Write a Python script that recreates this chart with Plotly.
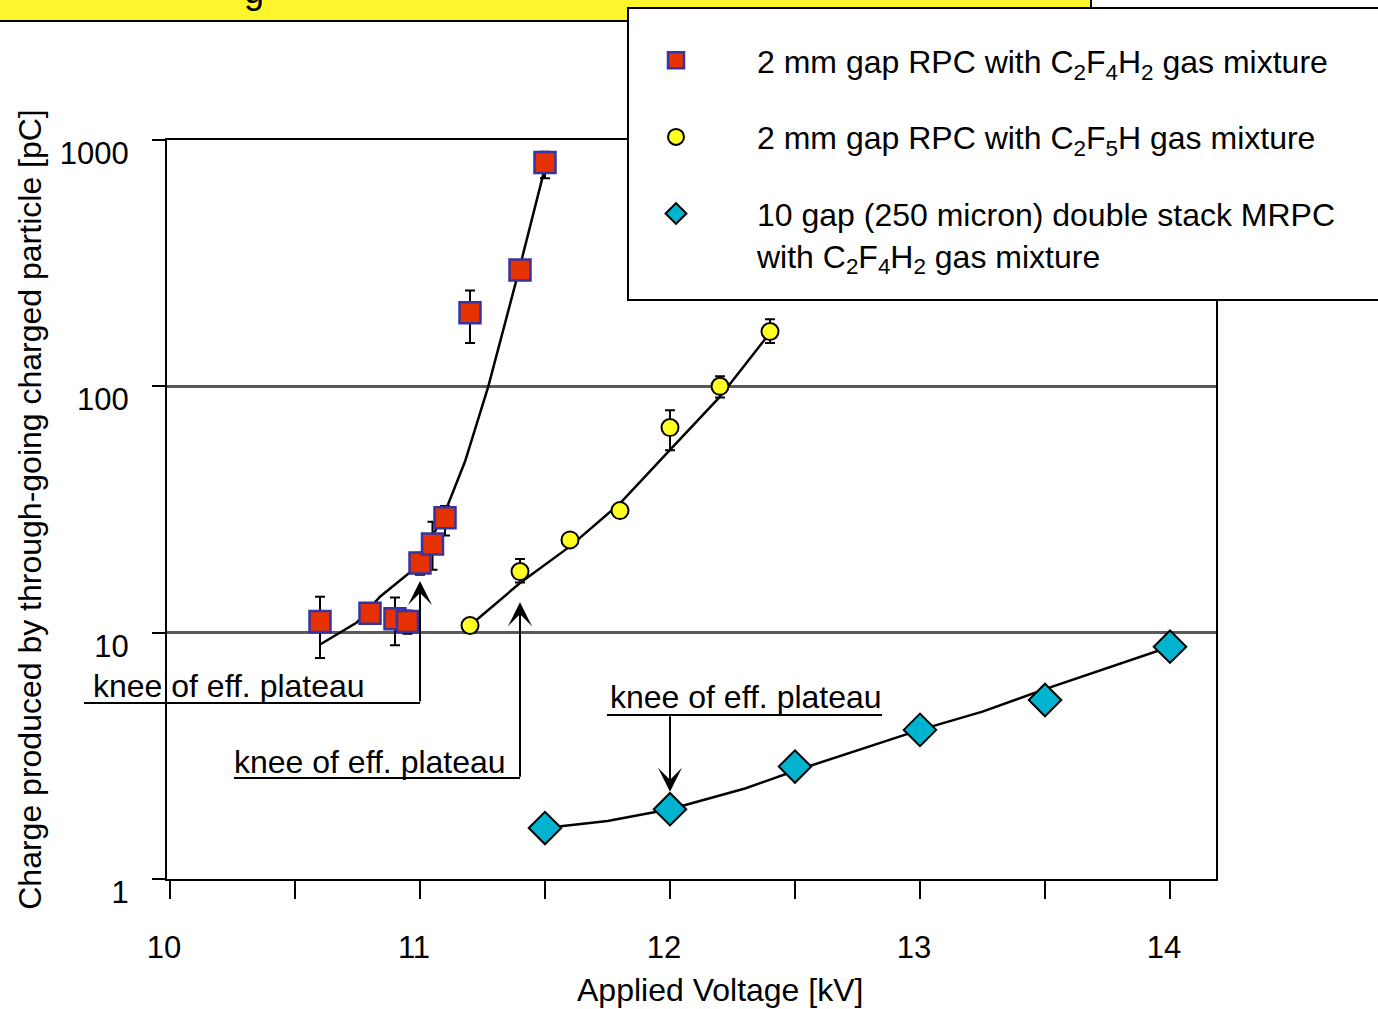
import plotly.graph_objects as go
import math

FONT = "Liberation Sans, Arial, Helvetica, sans-serif"

# ---------------- data ----------------
# 2 mm gap RPC, C2F4H2
red_x = [10.6, 10.8, 10.9, 10.95, 11.0, 11.05, 11.1, 11.2, 11.4, 11.5]
red_y = [11.1, 12.0, 11.4, 11.1, 19.2, 22.9, 29.3, 199, 297, 810]
red_err_plus = [2.9, 0, 2.5, 1.2, 1.9, 5.3, 3.4, 46, 0, 87]
red_err_minus = [3.2, 0, 2.5, 1.2, 2.0, 4.9, 4.5, 49, 0, 110]
red_fit_x = [10.597, 10.747, 10.84, 10.973, 11.093, 11.18, 11.273, 11.393, 11.507]
red_fit_y = [8.91, 11.0, 14.0, 18.0, 29.6, 49.5, 99.7, 288, 825]

# 2 mm gap RPC, C2F5H
yel_x = [11.2, 11.4, 11.6, 11.8, 12.0, 12.2, 12.4]
yel_y = [10.7, 17.7, 23.8, 31.3, 68, 100, 167]
yel_err_plus = [0, 2.2, 0, 0, 12, 10, 20]
yel_err_minus = [0, 1.7, 0, 0, 13, 10, 17]
yel_fit_x = [11.2, 11.4, 11.6, 11.8, 12.0, 12.2, 12.4]
yel_fit_y = [10.7, 15.9, 22.4, 33.5, 55.2, 90.8, 165]

# 10 gap double stack MRPC, C2F4H2
cya_x = [11.5, 12.0, 12.5, 13.0, 13.5, 14.0]
cya_y = [1.61, 1.92, 2.86, 4.03, 5.33, 8.77]
cya_err_plus = [0.05, 0, 0.15, 0, 0.3, 1.0]
cya_err_minus = [0.1, 0, 0, 0, 0.35, 0.5]
cya_fit_x = [11.5, 11.75, 12.0, 12.3, 12.5, 13.0, 13.25, 13.5, 14.0]
cya_fit_y = [1.61, 1.72, 1.92, 2.33, 2.75, 4.03, 4.78, 5.9, 8.77]

x_tick_vals = [10, 10.5, 11, 11.5, 12, 12.5, 13, 13.5, 14]
x_tick_text = ["10", "", "11", "", "12", "", "13", "", "14"]
y_tick_vals = [1, 10, 100, 1000]
y_tick_text = ["1", "10", "100", "1000"]

# knee annotations: arrow tip (x, y) in data units
knee_x = [11.0, 11.4, 12.0]
knee_y = [16.2, 13.3, 2.26]

# ---------------- figure ----------------
fig = go.Figure()

line_style = dict(color="black", width=2.5)
fig.add_trace(go.Scatter(x=red_fit_x, y=red_fit_y, mode="lines", line=line_style,
                         showlegend=False, hoverinfo="skip"))
fig.add_trace(go.Scatter(x=yel_fit_x, y=yel_fit_y, mode="lines", line=line_style,
                         showlegend=False, hoverinfo="skip"))
fig.add_trace(go.Scatter(x=cya_fit_x, y=cya_fit_y, mode="lines", line=line_style,
                         showlegend=False, hoverinfo="skip"))

err_common = dict(type="data", symmetric=False, color="black", thickness=2, width=5)

fig.add_trace(go.Scatter(
    x=red_x, y=red_y, mode="markers",
    name="2 mm gap RPC with C<sub>2</sub>F<sub>4</sub>H<sub>2</sub> gas mixture",
    legendgroup="a",
    marker=dict(symbol="square", size=21, color="#e63200",
                line=dict(color="#3434a4", width=2.5)),
    error_y=dict(array=red_err_plus, arrayminus=red_err_minus, **err_common)))
fig.add_trace(go.Scatter(
    x=yel_x, y=yel_y, mode="markers",
    name="2 mm gap RPC with C<sub>2</sub>F<sub>5</sub>H gas mixture",
    legendgroup="b",
    marker=dict(symbol="circle", size=17, color="#ffff22",
                line=dict(color="black", width=2)),
    error_y=dict(array=yel_err_plus, arrayminus=yel_err_minus, **err_common)))
fig.add_trace(go.Scatter(
    x=cya_x, y=cya_y, mode="markers",
    name="10 gap (250 micron) double stack MRPC<br>with C<sub>2</sub>F<sub>4</sub>H<sub>2</sub> gas mixture",
    legendgroup="c",
    marker=dict(symbol="diamond", size=25, color="#00b4d0",
                line=dict(color="black", width=2)),
    error_y=dict(array=cya_err_plus, arrayminus=cya_err_minus, **err_common)))

# plot geometry (pixels) for paper conversions of decorations
L, R, T, B = 167, 1216, 140, 879
def px(xp):
    return (xp - L) / (R - L)
def py(yp):
    return (B - yp) / (B - T)

shapes = []
# yellow title band at the top (cut off)
shapes.append(dict(type="rect", xref="paper", yref="paper",
                   x0=px(-20), x1=px(1091), y0=py(21), y1=py(-20),
                   fillcolor="#fff52c", line=dict(color="black", width=2), layer="above"))
# legend box (white, black border) drawn under the legend entries
shapes.append(dict(type="rect", xref="paper", yref="paper",
                   x0=px(628), x1=px(1400), y0=py(300), y1=py(8),
                   fillcolor="white", line=dict(color="black", width=2), layer="above"))
# underline / elbow lines of the knee annotations
elbows = [(84, 420, 703), (234, 520, 778), (607, 882, 715)]
for x0, x1, yy in elbows:
    shapes.append(dict(type="line", xref="paper", yref="paper",
                       x0=px(x0), x1=px(x1), y0=py(yy), y1=py(yy),
                       line=dict(color="black", width=2), layer="above"))

annotations = []
# arrows
tails_ay = [122, 176, -77]
for kx, ky, ay in zip(knee_x, knee_y, tails_ay):
    annotations.append(dict(x=kx, y=math.log10(ky), xref="x", yref="y", text="",
                            showarrow=True, ax=0, ay=ay, arrowhead=3, arrowsize=2,
                            arrowwidth=2, arrowcolor="black", standoff=0))
# knee texts
knee_text_pos = [(228.5, 686), (370, 762), (746, 697)]
for tx, ty in knee_text_pos:
    annotations.append(dict(x=px(tx), y=py(ty), xref="paper", yref="paper",
                            text="knee of eff. plateau", showarrow=False,
                            xanchor="center", yanchor="middle",
                            font=dict(family=FONT, size=32, color="black")))
# cut-off title fragment
annotations.append(dict(x=px(254), y=py(13), xref="paper", yref="paper", text="g",
                        showarrow=False, xanchor="center", yanchor="bottom",
                        font=dict(family=FONT, size=36, color="black")))
# x-axis title
annotations.append(dict(x=px(719.5), y=py(990), xref="paper", yref="paper",
                        text="Applied Voltage [kV]", showarrow=False,
                        xanchor="center", yanchor="middle",
                        font=dict(family=FONT, size=32, color="black")))

fig.update_layout(
    width=1378, height=1009,
    margin=dict(l=L, r=1378 - R, t=T, b=1009 - B, autoexpand=False),
    paper_bgcolor="white", plot_bgcolor="white",
    font=dict(family=FONT, size=31, color="black"),
    shapes=shapes, annotations=annotations,
    legend=dict(x=px(595), y=py(33), xanchor="left", yanchor="top",
                bgcolor="rgba(0,0,0,0)", borderwidth=0,
                font=dict(family=FONT, size=32, color="black"),
                traceorder="grouped", tracegroupgap=32, valign="top",
                itemwidth=152),
    xaxis=dict(range=[9.988, 14.184], tickmode="array", tickvals=x_tick_vals,
               ticktext=x_tick_text, ticks="outside", ticklen=18, tickwidth=2,
               tickcolor="black", showline=True, linecolor="black", linewidth=2,
               mirror=True, showgrid=False, zeroline=False,
               ticklabelstandoff=22, ticklabelshift=-6,
               tickfont=dict(family=FONT, size=31, color="black")),
    yaxis=dict(type="log", range=[0, 3], tickmode="array", tickvals=y_tick_vals,
               ticktext=y_tick_text, ticks="outside", ticklen=13, tickwidth=2,
               tickcolor="black", showline=True, linecolor="black", linewidth=2,
               mirror=True, showgrid=True, gridcolor="#5a5a5a", gridwidth=2.5,
               zeroline=False, ticklabelstandoff=17, ticklabelshift=13,
               tickfont=dict(family=FONT, size=31, color="black"),
               title=dict(text="Charge produced by through-going charged particle [pC]",
                          font=dict(family=FONT, size=32, color="black"), standoff=9)),
)

fig.write_html("out.html")
